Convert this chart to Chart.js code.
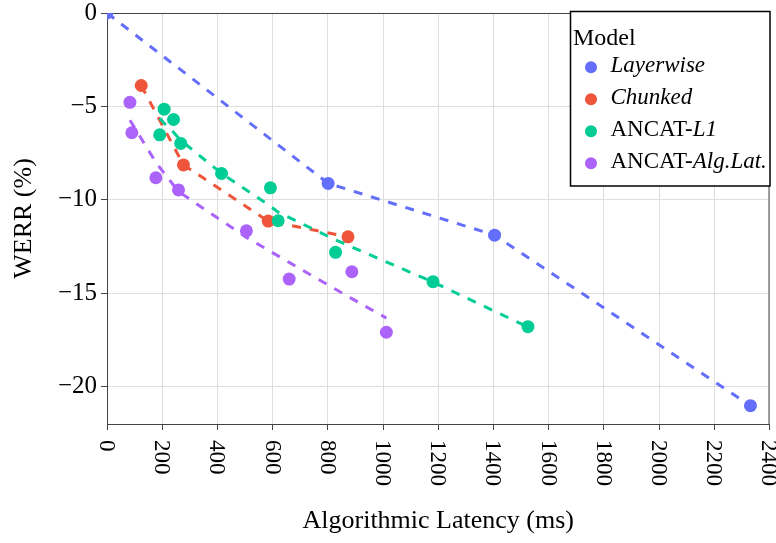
<!DOCTYPE html>
<html>
<head>
<meta charset="utf-8">
<script src="https://cdn.jsdelivr.net/npm/chart.js@4/dist/chart.umd.min.js"></script>
<style>
  body { margin: 0; background: #fff; }
  #wrap { width: 776px; height: 543px; }
</style>
</head>
<body>
<div id="wrap"><canvas id="chart" width="776" height="543"></canvas></div>
<script>
// Values (latency in ms, WERR in %)
const layerwiseLatency = [0, 801, 1404, 2331];
const layerwiseWerr = [0, -9.12, -11.89, -21.02];
const layerwiseTrend = [0, -9.12, -11.89, -21.02];

const chunkedLatency = [124, 277, 584, 873];
const chunkedWerr = [-3.88, -8.13, -11.14, -11.98];
const chunkedTrend = [-3.88, -8.13, -11.14, -11.98];

const l1Latency = [191, 207, 241, 267, 415, 592, 620, 828, 1181, 1525];
const l1Werr = [-6.52, -5.15, -5.70, -6.98, -8.59, -9.36, -11.12, -12.81, -14.38, -16.79];
const l1Trend = [-5.63, -5.90, -6.38, -6.81, -8.59, -10.34, -10.66, -12.15, -14.40, -16.81];

const algLatency = [83, 90, 177, 259, 505, 660, 887, 1012];
const algWerr = [-4.78, -6.41, -8.82, -9.47, -11.66, -14.24, -13.85, -17.09];
const algTrend = [-5.74, -5.90, -8.0, -9.56, -12.01, -13.35, -15.29, -16.33];

const xTicks = [0, 200, 400, 600, 800, 1000, 1200, 1400, 1600, 1800, 2000, 2200, 2400];
const yTicks = [0, -5, -10, -15, -20];

const legendTitle = 'Model';
const legendLabels = [
  [['Layerwise', true]],
  [['Chunked', true]],
  [['ANCAT-', false], ['L1', true]],
  [['ANCAT-', false], ['Alg.Lat.', true]]
];
const colors = ['#636efa', '#ef553b', '#00cc96', '#ab63fa'];

const serif = "'Liberation Serif', 'Times New Roman', serif";

function pts(xs, ys) {
  return xs.map((x, i) => ({ x: x, y: ys[i] }));
}

const groups = [
  [layerwiseLatency, layerwiseWerr, layerwiseTrend],
  [chunkedLatency, chunkedWerr, chunkedTrend],
  [l1Latency, l1Werr, l1Trend],
  [algLatency, algWerr, algTrend]
];

// plotly-like stacking: markers then trendline per group, later groups on top
const datasets = [];
let ord = 20;
groups.forEach((g, k) => {
  datasets.push({
    data: pts(g[0], g[1]),
    showLine: false,
    pointRadius: 6.5,
    pointBackgroundColor: colors[k],
    pointBorderWidth: 0,
    clip: 0,
    order: ord--
  });
  datasets.push({
    data: pts(g[0], g[2]),
    showLine: true,
    borderColor: colors[k],
    borderWidth: 3,
    borderDash: [9, 9],
    pointRadius: 0,
    tension: 0,
    clip: 0,
    order: ord--
  });
});

const frameAndLabels = {
  id: 'frameAndLabels',
  beforeDatasetsDraw(chart) {
    const a = chart.chartArea;
    const ctx = chart.ctx;
    ctx.save();
    ctx.strokeStyle = '#444';
    ctx.lineWidth = 1;
    ctx.beginPath();
    ctx.moveTo(a.left, a.top + 0.5);
    ctx.lineTo(a.right, a.top + 0.5);
    ctx.moveTo(a.right - 0.5, a.top);
    ctx.lineTo(a.right - 0.5, a.bottom);
    ctx.stroke();
    ctx.restore();
  },
  afterDraw(chart) {
    const ctx = chart.ctx;
    const xs = chart.scales.x;
    // x tick labels, rotated clockwise
    ctx.save();
    ctx.fillStyle = '#000';
    ctx.font = '23px ' + serif;
    ctx.textAlign = 'left';
    ctx.textBaseline = 'middle';
    xTicks.forEach(v => {
      const px = xs.getPixelForValue(v);
      ctx.save();
      ctx.translate(px - 1, 440);
      ctx.rotate(Math.PI / 2);
      ctx.fillText(String(v), 0, 0);
      ctx.restore();
    });
    ctx.restore();

    // legend
    ctx.save();
    const bx = 570.5, by = 11.5, bw = 199.5, bh = 174.5;
    ctx.fillStyle = '#fff';
    ctx.fillRect(bx, by, bw, bh);
    ctx.strokeStyle = '#000';
    ctx.lineWidth = 1.5;
    ctx.strokeRect(bx, by, bw, bh);
    ctx.fillStyle = '#000';
    ctx.font = '24px ' + serif;
    ctx.textBaseline = 'alphabetic';
    ctx.fillText(legendTitle, 573, 45);
    legendLabels.forEach((parts, i) => {
      const cy = 67.3 + 32 * i;
      ctx.beginPath();
      ctx.fillStyle = colors[i];
      ctx.arc(591, cy, 6, 0, Math.PI * 2);
      ctx.fill();
      ctx.fillStyle = '#000';
      ctx.textBaseline = 'middle';
      let tx = 610.5;
      parts.forEach(p => {
        ctx.font = (p[1] ? 'italic ' : '') + '23px ' + serif;
        ctx.fillText(p[0], tx, cy - 1);
        tx += ctx.measureText(p[0]).width;
      });
    });
    ctx.restore();
  }
};

function fixSize(w, h) {
  return function (scale) {
    if (w !== null) scale.width = w;
    if (h !== null) scale.height = h;
    scale.paddingTop = 0;
    scale.paddingBottom = 0;
    scale.paddingLeft = 0;
    scale.paddingRight = 0;
  };
}

new Chart(document.getElementById('chart'), {
  type: 'scatter',
  data: { datasets: datasets },
  plugins: [frameAndLabels],
  options: {
    responsive: false,
    animation: false,
    devicePixelRatio: 1,
    layout: { padding: { left: 0, right: 5, top: 13, bottom: 0 } },
    plugins: { legend: { display: false }, tooltip: { enabled: false } },
    scales: {
      x: {
        type: 'linear',
        min: 0,
        max: 2400,
        afterBuildTicks: s => { s.ticks = xTicks.map(v => ({ value: v })); },
        afterFit: fixSize(null, 119),
        grid: { color: '#dedede', tickColor: '#444', tickLength: 6, lineWidth: 1 },
        border: { color: '#444', width: 1 },
        ticks: { color: 'rgba(0,0,0,0)', maxRotation: 0, minRotation: 0, font: { family: serif, size: 23 } },
        title: {
          display: true,
          text: 'Algorithmic Latency (ms)',
          color: '#000',
          font: { family: serif, size: 26 },
          padding: { top: 0, bottom: 6.4 }
        }
      },
      y: {
        type: 'linear',
        min: -22,
        max: 0,
        afterBuildTicks: s => { s.ticks = yTicks.map(v => ({ value: v })); },
        afterFit: fixSize(107, null),
        grid: { color: '#dedede', tickColor: '#444', tickLength: 6, lineWidth: 1 },
        border: { color: '#444', width: 1 },
        ticks: {
          color: '#000',
          padding: 4,
          font: { family: serif, size: 25 },
          callback: v => (v < 0 ? '\u2212' + Math.abs(v) : String(v))
        },
        title: {
          display: true,
          text: 'WERR (%)',
          color: '#000',
          font: { family: serif, size: 26 },
          padding: { top: 8.4, bottom: 0 }
        }
      }
    }
  }
});
</script>
</body>
</html>
